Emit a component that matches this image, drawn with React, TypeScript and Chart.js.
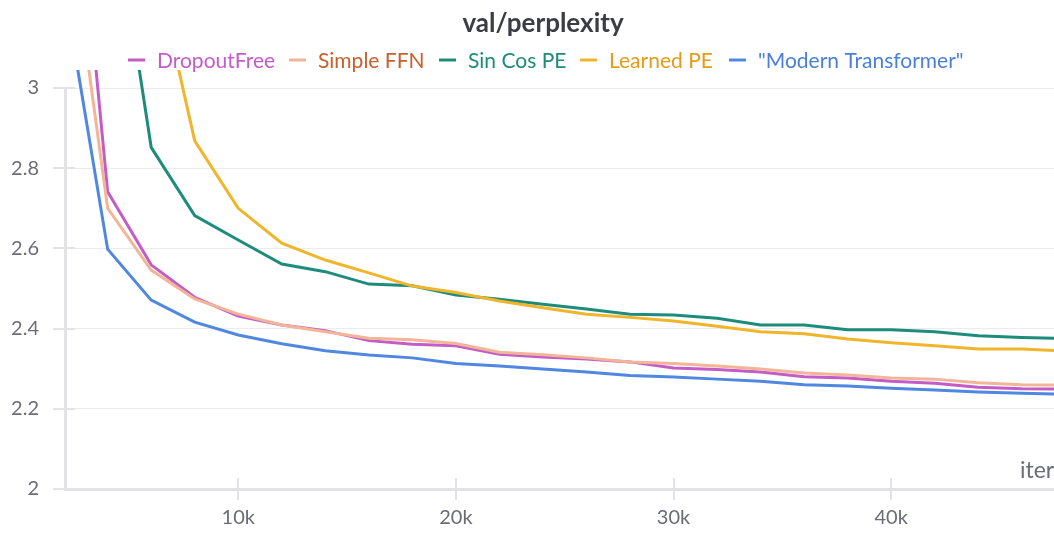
import React, { useEffect, useRef } from "react";
import { Chart, registerables } from "chart.js";

Chart.register(...registerables);

// ---- data ----
const iters = [2000, 4000, 6000, 8000, 10000, 12000, 14000, 16000, 18000, 20000, 22000, 24000, 26000, 28000, 30000, 32000, 34000, 36000, 38000, 40000, 42000, 44000, 46000, 48000];
const seriesNames = ["DropoutFree", "Simple FFN", "Sin Cos PE", "Learned PE", "\"Modern Transformer\""];
const dropoutFree = [3.88, 2.741, 2.559, 2.478, 2.431, 2.409, 2.395, 2.37, 2.361, 2.357, 2.336, 2.329, 2.324, 2.317, 2.302, 2.298, 2.292, 2.28, 2.277, 2.269, 2.264, 2.254, 2.25, 2.249];
const simpleFFN = [3.5, 2.7, 2.546, 2.474, 2.436, 2.409, 2.392, 2.376, 2.372, 2.363, 2.341, 2.335, 2.327, 2.317, 2.313, 2.307, 2.299, 2.289, 2.284, 2.277, 2.274, 2.265, 2.26, 2.259];
const sinCosPE = [4.6, 3.56, 2.852, 2.682, 2.621, 2.561, 2.542, 2.511, 2.507, 2.484, 2.473, 2.461, 2.449, 2.436, 2.434, 2.426, 2.409, 2.409, 2.397, 2.397, 2.392, 2.382, 2.378, 2.375];
const learnedPE = [5.2, 4.2, 3.35, 2.868, 2.7, 2.613, 2.571, 2.539, 2.506, 2.49, 2.469, 2.452, 2.436, 2.428, 2.419, 2.406, 2.392, 2.387, 2.374, 2.365, 2.357, 2.349, 2.349, 2.344];
const modernTransformer = [3.25, 2.598, 2.471, 2.416, 2.384, 2.362, 2.345, 2.334, 2.327, 2.313, 2.307, 2.299, 2.292, 2.283, 2.279, 2.274, 2.269, 2.26, 2.257, 2.251, 2.247, 2.242, 2.239, 2.236];
const yTicks = [2, 2.2, 2.4, 2.6, 2.8, 3];
const xTicks = [10000, 20000, 30000, 40000];
const chartTitle = "val/perplexity";
const xAxisTitle = "iter";

// ---- styles ----
const lineColors = ["#c35cc7", "#f2b597", "#1e8c7a", "#f0b52a", "#5087e0"];
const textColors = ["#c35cc7", "#c95f2c", "#1e8c7a", "#e59b17", "#4a80da"];
const legendMarkerX = [128, 289, 439, 580, 729];
const FONT = "Lato, 'Noto Sans', sans-serif";
const W = 1054;
const H = 533;

const decor = {
  id: "decor",
  beforeDatasetsDraw(chart: any) {
    const ctx = chart.ctx;
    const ca = chart.chartArea;
    const xs = chart.scales.x;
    const ys = chart.scales.y;
    ctx.save();
    ctx.strokeStyle = "#e3e3e6";
    ctx.lineWidth = 2;
    yTicks.forEach((v) => {
      const y = Math.round(ys.getPixelForValue(v));
      ctx.beginPath();
      ctx.moveTo(ca.left - 12, y);
      ctx.lineTo(ca.left + 10, y);
      ctx.stroke();
    });
    xTicks.forEach((v) => {
      const x = Math.round(xs.getPixelForValue(v));
      ctx.beginPath();
      ctx.moveTo(x, ca.bottom - 11);
      ctx.lineTo(x, ca.bottom + 11);
      ctx.stroke();
    });
    ctx.restore();
  },
  afterDraw(chart: any) {
    const ctx = chart.ctx;
    const ca = chart.chartArea;
    ctx.save();
    // title
    ctx.font = `bold 26px ${FONT}`;
    ctx.fillStyle = "#3b3c44";
    ctx.textAlign = "center";
    ctx.textBaseline = "alphabetic";
    ctx.fillText(chartTitle, 543, 32);
    // legend
    ctx.font = `21px ${FONT}`;
    ctx.textAlign = "left";
    seriesNames.forEach((n, i) => {
      const x = legendMarkerX[i];
      ctx.fillStyle = lineColors[i];
      ctx.fillRect(x, 58.5, 17, 3);
      ctx.fillStyle = textColors[i];
      ctx.fillText(n, x + 29, 67.5);
    });
    // x axis title
    ctx.font = `23px ${FONT}`;
    ctx.fillStyle = "#6b6c78";
    ctx.fillText(xAxisTitle, ca.right - 34, 478);
    ctx.restore();
  },
};

export default function App() {
  const ref = useRef<HTMLCanvasElement | null>(null);
  useEffect(() => {
    if (!ref.current) return;
    const series = [dropoutFree, simpleFFN, sinCosPE, learnedPE, modernTransformer];
    const chart = new Chart(ref.current, {
      type: "line",
      data: {
        datasets: series.map((s, i) => ({
          label: seriesNames[i],
          data: s.map((v, j) => ({ x: iters[j], y: v })),
          borderColor: lineColors[i],
          backgroundColor: lineColors[i],
          borderWidth: 3,
          pointRadius: 0,
          tension: 0,
          order: series.length - i,
          clip: { left: 0, top: 18, right: 0, bottom: 0 },
        })),
      },
      options: {
        responsive: false,
        animation: false,
        layout: { padding: { top: 88, left: 0, right: 0, bottom: 0 } },
        plugins: {
          legend: { display: false },
          title: { display: false },
          tooltip: { enabled: false },
        },
        scales: {
          x: {
            type: "linear",
            min: 2040,
            max: 47480,
            afterBuildTicks: (s: any) => {
              s.ticks = xTicks.map((v) => ({ value: v }));
            },
            afterFit: (s: any) => {
              s.height = 44;
            },
            ticks: {
              autoSkip: false,
              maxRotation: 0,
              padding: 17,
              color: "#6b6c78",
              font: { family: FONT, size: 20 },
              callback: (v: any) => `${Number(v) / 1000}k`,
            },
            grid: { drawOnChartArea: false, drawTicks: false },
            border: { display: true, color: "#e3e3e6", width: 3 },
          },
          y: {
            type: "linear",
            min: 2,
            max: 3,
            afterBuildTicks: (s: any) => {
              s.ticks = yTicks.map((v) => ({ value: v }));
            },
            afterFit: (s: any) => {
              s.width = 65;
            },
            ticks: {
              padding: 26,
              color: "#6b6c78",
              font: { family: FONT, size: 20 },
              callback: (v: any) => `${Number(v)}`,
            },
            grid: { color: "#ececee", lineWidth: 1, drawTicks: false },
            border: { display: true, color: "#e3e3e6", width: 3 },
          },
        },
      },
      plugins: [decor],
    } as any);
    return () => chart.destroy();
  }, []);
  return (
    <div style={{ position: "absolute", left: 0, top: 0, width: W, height: H, background: "#fff" }}>
      <canvas ref={ref} width={W} height={H} style={{ display: "block" }} />
    </div>
  );
}
